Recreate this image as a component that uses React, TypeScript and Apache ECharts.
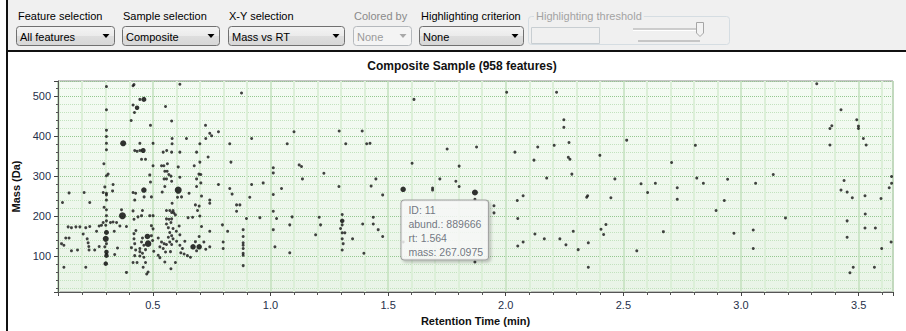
import React, { useEffect, useRef } from "react";
import * as echarts from "echarts";

const FONT = '"Liberation Sans", Arial, sans-serif';

// ---- texts ----
const toolbarLabels = ["Feature selection", "Sample selection", "X-Y selection", "Colored by", "Highlighting criterion"];
const toolbarValues = ["All features", "Composite", "Mass vs RT", "None", "None"];
const toolbarDisabled = [false, false, false, true, false];
const thresholdLabel = "Highlighting threshold";
const chartTitle = "Composite Sample (958 features)";
const xAxisTitle = "Retention Time (min)";
const yAxisTitle = "Mass (Da)";

// ---- axis extents ----
const rtRange = [0.097, 3.646];
const massRange = [10, 538];

// ---- data: [retention time (min), mass (Da)] ----
const smallFeatures: number[][] = [
  [0.303, 524], [0.416, 526], [0.42, 529], [0.615, 530], [0.877, 508], [0.445, 492],
  [0.303, 466], [0.416, 478], [0.422, 459], [0.554, 474], [0.408, 439], [0.58, 438], [0.49, 427],
  [0.724, 427], [0.779, 411], [0.742, 407], [0.75, 401], [1.1, 411],
  [0.303, 415], [0.303, 399], [0.582, 394], [0.643, 394], [0.725, 394], [0.92, 394],
  [0.303, 382], [0.445, 382], [0.501, 382], [0.582, 381], [0.7, 381], [0.827, 381], [1.071, 381],
  [0.303, 366], [0.423, 364], [0.433, 362], [0.445, 364],
  [0.544, 360], [0.559, 364], [0.58, 360], [0.615, 360], [0.686, 360], [0.735, 348], [0.452, 342],
  [0.469, 342], [0.7, 335], [0.832, 335], [0.292, 331], [0.501, 326], [0.537, 326], [0.547, 326],
  [0.562, 331], [0.608, 323], [0.676, 326], [1.012, 321], [1.122, 328],
  [0.551, 312], [0.561, 312], [0.696, 305], [0.704, 304], [1.012, 308], [0.31, 305], [0.303, 301],
  [0.487, 303], [0.568, 304], [0.577, 300], [0.615, 297], [0.548, 293], [0.558, 293], [0.686, 293],
  [0.58, 287], [0.49, 285], [0.331, 279], [0.296, 273], [0.704, 283], [0.779, 279], [0.92, 279],
  [0.969, 283], [1.047, 269], [0.551, 274], [0.686, 274], [0.827, 269], [0.329, 263], [0.144, 258],
  [0.208, 259], [0.289, 259], [0.303, 257], [0.416, 259], [0.427, 257], [0.54, 260], [0.654, 257],
  [0.707, 250], [0.837, 255], [1.012, 254], [0.303, 253],
  [0.303, 240], [0.232, 234], [0.116, 234], [0.423, 240], [0.463, 248], [0.494, 248], [0.605, 247],
  [0.622, 248], [0.582, 232], [0.681, 228], [0.697, 225], [0.69, 214], [0.742, 240], [0.742, 232],
  [0.856, 228], [0.87, 228], [0.856, 212], [0.912, 247], [1.012, 212], [0.293, 222], [0.303, 216],
  [0.303, 201], [0.456, 214], [0.452, 201], [0.42, 192], [0.487, 201], [0.501, 201], [0.367, 216],
  [0.416, 213], [0.437, 198], [0.558, 214], [0.572, 214], [0.586, 214], [0.58, 209], [0.589, 208],
  [0.596, 203], [0.558, 193], [0.569, 192], [0.58, 193], [0.65, 196], [0.669, 197], [0.7, 200],
  [0.898, 194], [0.955, 196], [1.026, 194], [1.092, 198], [1.082, 178], [0.796, 178], [0.707, 174],
  [0.742, 162], [0.818, 162], [1.012, 166], [0.884, 166], [0.884, 149],
  [0.577, 184], [0.558, 180], [0.566, 171], [0.586, 169], [0.572, 159], [0.58, 151], [0.612, 175],
  [0.615, 153], [0.601, 137], [0.388, 174], [0.331, 185], [0.346, 184], [0.36, 175], [0.336, 162],
  [0.303, 188], [0.3, 177], [0.32, 184], [0.289, 184], [0.272, 175], [0.282, 177], [0.261, 162],
  [0.14, 173], [0.154, 171], [0.173, 173], [0.19, 173], [0.215, 171], [0.232, 174], [0.204, 155],
  [0.494, 176], [0.501, 168], [0.428, 164], [0.42, 156], [0.6, 162],
  [0.884, 133], [0.884, 127], [0.884, 119], [0.884, 107], [0.884, 102], [0.884, 76], [1.019, 123],
  [1.082, 108], [0.799, 135], [0.799, 119], [0.697, 149], [0.717, 135], [0.742, 123], [0.686, 113],
  [0.725, 117], [0.681, 136],
  [0.636, 137], [0.626, 119], [0.619, 108], [0.633, 105], [0.647, 101], [0.66, 97], [0.596, 84],
  [0.577, 68], [0.551, 85], [0.575, 111],
  [0.566, 147], [0.586, 143], [0.572, 135], [0.558, 129], [0.58, 129], [0.615, 127],
  [0.523, 145], [0.537, 135], [0.548, 131], [0.53, 123], [0.544, 119], [0.554, 110], [0.523, 102],
  [0.53, 96], [0.504, 112], [0.494, 151], [0.499, 139],
  [0.456, 145], [0.452, 135], [0.462, 127], [0.445, 119], [0.469, 116], [0.456, 107], [0.445, 100],
  [0.462, 97], [0.469, 84], [0.459, 72], [0.48, 60], [0.474, 55], [0.445, 111],
  [0.42, 143], [0.423, 131], [0.409, 121], [0.427, 115], [0.423, 101], [0.416, 84], [0.433, 84],
  [0.388, 59], [0.35, 120], [0.338, 104], [0.303, 131], [0.296, 123],
  [0.221, 143], [0.13, 145], [0.144, 145], [0.112, 131], [0.122, 127], [0.225, 133], [0.228, 124],
  [0.154, 113], [0.18, 115], [0.229, 115], [0.253, 115], [0.272, 124], [0.122, 72], [0.215, 72],
  [1.292, 413], [1.39, 413], [1.32, 381], [1.409, 381], [1.423, 382], [1.61, 492], [1.751, 368],
  [1.876, 373], [2.004, 510], [2.216, 510], [2.247, 441], [2.247, 422], [2.039, 360], [2.136, 373],
  [2.206, 377], [2.269, 384], [2.4, 352], [1.602, 332], [1.802, 325], [2.12, 340], [2.266, 347],
  [2.273, 342], [1.132, 324], [1.227, 307], [1.136, 293], [1.448, 293], [1.72, 293], [1.788, 287],
  [2.174, 295], [2.281, 305], [1.291, 274], [1.428, 275], [1.802, 274], [1.689, 270], [1.689, 265],
  [1.477, 253], [2.074, 251], [2.348, 251],
  [1.869, 242], [2.049, 239], [1.95, 226], [1.95, 208], [2.051, 194], [2.344, 247], [1.207, 197],
  [1.213, 178], [1.305, 204], [1.305, 178], [1.298, 169], [1.305, 158], [1.316, 158], [1.305, 143],
  [1.309, 131], [1.305, 115], [1.192, 153], [1.349, 143], [1.392, 180], [1.397, 107], [1.437, 197],
  [1.437, 180], [1.458, 166], [1.477, 149], [1.564, 135], [1.869, 85], [2.124, 155], [2.164, 143],
  [2.051, 125], [2.074, 135], [2.23, 143], [2.256, 128], [2.287, 162], [2.308, 116], [2.351, 133],
  [2.351, 72],
  [3.322, 531], [3.425, 466], [3.492, 441], [3.499, 425], [3.499, 419], [3.386, 426], [3.378, 419],
  [3.52, 394], [3.532, 378], [3.378, 378], [2.514, 390], [2.806, 377], [2.705, 334], [3.137, 304],
  [3.64, 299], [3.64, 282], [3.63, 271], [2.464, 293], [2.812, 295], [2.84, 282], [2.943, 292],
  [3.062, 282], [2.575, 281], [2.636, 282], [2.729, 271], [2.603, 259], [3.438, 289], [3.425, 265],
  [3.451, 260], [3.527, 251], [2.729, 242], [2.447, 246], [2.894, 214], [2.929, 239], [3.189, 195],
  [2.405, 167], [2.426, 179], [2.416, 154], [2.67, 161], [2.97, 157], [3.052, 165], [3.052, 119],
  [2.557, 113], [3.473, 246], [3.595, 244], [3.528, 205], [3.451, 188], [3.527, 170], [3.571, 170],
  [3.451, 147], [3.598, 119], [3.638, 135], [3.477, 72], [3.463, 58], [3.567, 72],
];

// [retention time (min), mass (Da), abundance] for the more abundant features
const largeFeatures: number[][] = [
  [0.462, 492, 657000], [0.433, 471, 457000], [0.374, 382, 1169000], [0.459, 364, 657000],
  [0.462, 265, 895000], [0.608, 265, 1826000], [0.371, 201, 1826000], [0.3, 143, 1169000],
  [0.303, 159, 657000], [0.477, 149, 895000], [0.48, 131, 1479000], [0.671, 123, 895000],
  [0.697, 123, 895000], [1.869, 259, 1169000], [1.305, 188, 457000], [0.303, 110, 457000],
  [0.303, 101, 457000], [0.3, 81, 457000],
];

const selectedFeature = { id: 11, rt: 1.564, mass: 267.0975, abund: 889666 };

// ---- layout of toolbar widgets ----
const comboX = [16, 122, 228, 353, 419];
const comboW = [98, 97, 116, 58, 104];
const labelX = [18, 123, 229, 354, 421];

const sizeOf = (v: number[]) => 2 + 3.7 * Math.sqrt(v[2] / 1e6);

function buildToolbar(): any[] {
  const els: any[] = [];
  els.push({ type: "rect", shape: { x: 8, y: 0, width: 898, height: 50 }, style: { fill: "#f0f0f0" }, silent: true });
  toolbarLabels.forEach((t, i) => {
    const dis = toolbarDisabled[i];
    els.push({
      type: "text", x: labelX[i], y: 16,
      style: { text: t, font: `11px ${FONT}`, fill: dis ? "#8a8a8a" : "#000", align: "left", verticalAlign: "middle" },
    });
    const x = comboX[i], w = comboW[i], y = 26, h = 19;
    els.push({
      type: "rect", shape: { x: x + 0.5, y: y + 0.5, width: w, height: h, r: 3 },
      style: {
        fill: dis ? "#f4f4f4" : new echarts.graphic.LinearGradient(0, 0, 0, 1, [
          { offset: 0, color: "#f4f4f4" }, { offset: 0.5, color: "#ebebeb" },
          { offset: 0.5, color: "#dedede" }, { offset: 1, color: "#d6d6d6" },
        ]),
        stroke: dis ? "#b5b9bd" : "#707070", lineWidth: 1,
      },
    });
    els.push({
      type: "text", x: x + 4, y: y + h / 2 + 1,
      style: { text: toolbarValues[i], font: `11px ${FONT}`, fill: dis ? "#9a9a9a" : "#000", align: "left", verticalAlign: "middle" },
    });
    const ax = x + w - 8, ay = y + h / 2;
    els.push({
      type: "polygon",
      shape: { points: [[ax - 3.5, ay - 1.5], [ax + 3.5, ay - 1.5], [ax, ay + 2.5]] },
      style: { fill: dis ? "#a8a8a8" : "#000" },
    });
  });
  // disabled threshold group
  els.push({ type: "rect", shape: { x: 528.5, y: 16.5, width: 201, height: 28, r: 3 }, style: { fill: "none", stroke: "#d5dde2", lineWidth: 1 } });
  els.push({
    type: "text", x: 534, y: 16,
    style: { text: thresholdLabel, font: `11px ${FONT}`, fill: "#a3a3a3", align: "left", verticalAlign: "middle", backgroundColor: "#f0f0f0", padding: [0, 2] },
  });
  els.push({ type: "rect", shape: { x: 531.5, y: 27.5, width: 68, height: 16 }, style: { fill: "#f0f0f0", stroke: "#c8ced2", lineWidth: 1 } });
  els.push({ type: "line", shape: { x1: 633, y1: 29, x2: 697, y2: 29 }, style: { stroke: "#a9a9a9", lineWidth: 1 } });
  els.push({ type: "line", shape: { x1: 633, y1: 30.5, x2: 697, y2: 30.5 }, style: { stroke: "#ffffff", lineWidth: 1 } });
  els.push({
    type: "polygon",
    shape: { points: [[696.5, 22.5], [703.5, 22.5], [703.5, 33], [700, 36.5], [696.5, 33]] },
    style: { fill: "#f3f3f3", stroke: "#a6a6a6", lineWidth: 1 },
  });
  els.push({ type: "rect", shape: { x: 638, y: 40, width: 62, height: 2 }, style: { fill: "#c6c6c6" } });
  // frame
  els.push({ type: "line", shape: { x1: 7, y1: 0, x2: 7, y2: 331 }, style: { stroke: "#111", lineWidth: 2 } });
  els.push({ type: "line", shape: { x1: 7, y1: 51, x2: 906, y2: 51 }, style: { stroke: "#111", lineWidth: 2 } });
  // title
  els.push({
    type: "text", x: 462, y: 66,
    style: { text: chartTitle, font: `bold 12px ${FONT}`, fill: "#111", align: "center", verticalAlign: "middle" },
  });
  return els;
}

export default function App() {
  const ref = useRef<HTMLDivElement>(null);
  useEffect(() => {
    if (!ref.current) return;
    const chart = echarts.init(ref.current, null, { renderer: "svg" });
    const sel = selectedFeature;
    chart.setOption({
      animation: false,
      backgroundColor: "#ffffff",
      graphic: { elements: buildToolbar() },
      grid: {
        left: 58, top: 81, right: 13, bottom: 33, show: true,
        borderColor: "#8a8a8a", borderWidth: 1,
        backgroundColor: new echarts.graphic.LinearGradient(0, 0, 0, 1, [
          { offset: 0, color: "#f4fbf3" }, { offset: 1, color: "#e9f4e7" },
        ]),
      },
      xAxis: {
        type: "value", min: rtRange[0], max: rtRange[1], splitNumber: 7,
        name: xAxisTitle, nameLocation: "middle", nameGap: 23,
        nameTextStyle: { fontFamily: FONT, fontSize: 11, fontWeight: "bold", color: "#111" },
        axisLine: { show: true, onZero: false, lineStyle: { color: "#555", width: 1 } },
        axisTick: { show: true, length: 4, lineStyle: { color: "#444" } },
        minorTick: { show: true, splitNumber: 5, length: 3, lineStyle: { color: "#555" } },
        axisLabel: {
          fontFamily: FONT, fontSize: 11, color: "#26304a", margin: 7,
          showMinLabel: false, showMaxLabel: false,
          formatter: (v: number) => v.toFixed(1),
        },
        splitLine: { show: true, lineStyle: { color: "#c3e0be", width: 1.5 } },
        minorSplitLine: { show: true, lineStyle: { color: "#dcefd8", width: 2 } },
      },
      yAxis: {
        type: "value", min: massRange[0], max: massRange[1], splitNumber: 5,
        name: yAxisTitle, nameLocation: "middle", nameGap: 30, nameRotate: 90,
        nameTextStyle: { fontFamily: FONT, fontSize: 11, fontWeight: "bold", color: "#111" },
        axisLine: { show: true, lineStyle: { color: "#555", width: 1 } },
        axisTick: { show: true, length: 4, lineStyle: { color: "#444" } },
        minorTick: { show: true, splitNumber: 5, length: 2, lineStyle: { color: "#555" } },
        axisLabel: {
          fontFamily: FONT, fontSize: 11, color: "#26304a", margin: 7,
          showMinLabel: false, showMaxLabel: false,
        },
        splitLine: { show: true, lineStyle: { color: "#94c890", width: 1, type: [1, 1] } },
        minorSplitLine: { show: true, lineStyle: { color: "#c2e2be", width: 1, type: [1, 1] } },
      },
      series: [
        {
          type: "scatter", data: smallFeatures, symbolSize: 3, z: 2, silent: true,
          itemStyle: { color: "#141414" }, emphasis: { disabled: true },
        },
        {
          type: "scatter", data: largeFeatures, symbolSize: sizeOf, z: 3, silent: true,
          itemStyle: { color: "#000" }, emphasis: { disabled: true },
        },
        {
          type: "scatter", z: 5, silent: true, symbolSize: sizeOf,
          itemStyle: { color: "#000" }, emphasis: { disabled: true },
          data: [{
            value: [sel.rt, sel.mass, sel.abund],
            label: {
              show: true, position: [1, 14], align: "left", verticalAlign: "top",
              formatter: `ID: ${sel.id}\nabund.: ${sel.abund}\nrt: ${sel.rt.toFixed(3)}\nmass: ${sel.mass.toFixed(4)}`,
              fontFamily: FONT, fontSize: 10.5, lineHeight: 14, color: "#4f5563",
              backgroundColor: "#fcfcfd", borderColor: "#8e8e8e", borderWidth: 1, borderRadius: 3,
              padding: [2, 5, 1, 7],
              shadowColor: "rgba(0,0,0,0.25)", shadowBlur: 3, shadowOffsetX: 2, shadowOffsetY: 2,
            },
          }],
        },
      ],
    });
    return () => chart.dispose();
  }, []);
  return <div ref={ref} style={{ position: "fixed", left: 0, top: 0, width: 906, height: 331, background: "#fff" }} />;
}
